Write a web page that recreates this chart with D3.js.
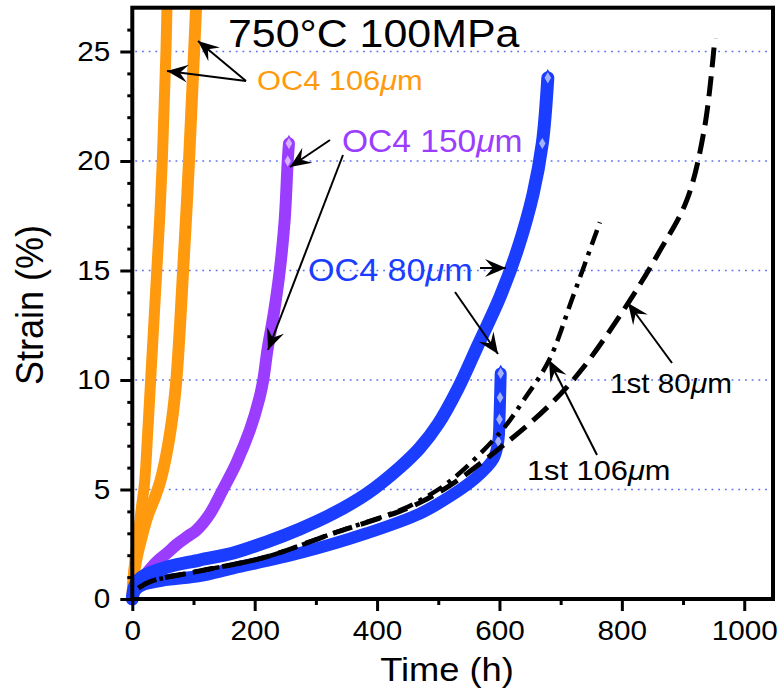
<!DOCTYPE html>
<html>
<head>
<meta charset="utf-8">
<script src="https://cdn.jsdelivr.net/npm/d3@7"></script>
<style>
  body { margin: 0; background: #fff; }
  text { font-family: "Liberation Sans", Arial, Helvetica, sans-serif; }
</style>
</head>
<body>
<div id="chart"></div>
<script>
// ticks
var xTicks = [0, 200, 400, 600, 800, 1000];
var xMinor = [100, 300, 500, 700, 900];
var yTicks = [0, 5, 10, 15, 20, 25];
var yMinor = d3.range(1, 27).filter(d => d % 5 != 0);

// series: [time (h), strain (%)]
var oc4_106a = [[0,0],[2,1],[5,2],[10,3],[15,4.2],[20,5.3],[25,7.5],[30,10],[35,12.5],[40,15],[45,17.5],[49,20],[52,22.5],[55,25],[57,27.5]];
var oc4_106b = [[0,0],[3,1.2],[8,2],[15,2.8],[25,3.8],[35,4.5],[45,5.3],[55,6.5],[65,8.2],[72,10],[78,12.5],[84,15.5],[90,18.5],[96,22],[101,25],[105,27.5]];
var oc4_150 = [[0,0],[5,0.6],[15,0.9],[21,1.1],[40,1.7],[57,2.1],[73,2.5],[90,2.85],[105,3.15],[127,3.9],[148,5],[170,6.2],[192,7.7],[208,9.2],[214,10],[221,11.4],[231,13],[241,15],[249,17.3],[254,20],[256,20.8]];
var oc4_80a = [[0,0],[4,0.6],[15,1.0],[57,1.46],[110,1.78],[165,2.1],[219,2.6],[274,3.2],[328,3.9],[383,4.8],[437,6.0],[470,6.9],[500,8.0],[532,9.6],[565,11.6],[601,13.8],[630,16.0],[655,18.5],[670,20.8],[679,23.8]];
var oc4_80b = [[0,0],[5,0.4],[18,0.65],[57,0.87],[110,1.05],[165,1.4],[274,2.1],[383,3.0],[470,3.9],[520,4.7],[560,5.5],[590,6.4],[598,7.2],[600,8.2],[601,9.2],[602,10.3]];
var first80 = [[10,0.5],[30,0.8],[110,1.28],[219,1.92],[328,3.0],[437,4.0],[470,4.4],[520,5.2],[601,6.9],[680,8.8],[735,10.5],[810,13.5],[860,15.8],[906,18.2],[935,21.5],[952,25.6]];
var first106 = [[10,0.5],[30,0.8],[110,1.28],[219,1.92],[328,3.0],[437,4.05],[470,4.5],[520,5.4],[601,7.6],[640,9.1],[681,10.9],[720,13.8],[764,17.2]];

var orange = "#ff9a0e", purple = "#9a3dff", blue = "#1a3dff";
var sx = 1.1;

var svg = d3.select("#chart").append("svg")
    .attr("width", 782).attr("height", 696);

var x = d3.scaleLinear().domain([0, 1047]).range([132.3, 773]);
var y = d3.scaleLinear().domain([0, 27]).range([599, 7.7]);

svg.append("defs").append("clipPath").attr("id", "plot")
    .append("rect").attr("x", 110).attr("y", y(27)).attr("width", 663).attr("height", 620);

svg.select("defs").append("marker")
    .attr("id", "arrow")
    .attr("markerUnits", "userSpaceOnUse")
    .attr("viewBox", "-22 -11 24 22")
    .attr("markerWidth", 24).attr("markerHeight", 22)
    .attr("refX", 0).attr("refY", 0)
    .attr("orient", "auto")
    .append("path")
    .attr("d", "M0,0 L-21,-9 L-13,0 L-21,9 Z")
    .attr("fill", "#000");

// dotted grid
svg.append("g").selectAll("line")
    .data(yTicks.filter(d => d > 0))
    .join("line")
    .attr("x1", x(0) + 3).attr("x2", x(1047) - 2)
    .attr("y1", d => y(d)).attr("y2", d => y(d))
    .attr("stroke", "#5d6ff0")
    .attr("stroke-width", 1.6)
    .attr("stroke-dasharray", "1.8,4.9");

var line = d3.line()
    .x(d => x(d[0])).y(d => y(d[1]))
    .curve(d3.curveCatmullRom.alpha(0.5));

var curves = svg.append("g").attr("clip-path", "url(#plot)");

function band(data, color, w) {
    curves.append("path")
        .datum(data)
        .attr("d", line)
        .attr("fill", "none")
        .attr("stroke", color)
        .attr("stroke-width", w)
        .attr("stroke-linecap", "round")
        .attr("stroke-linejoin", "round");
}

band(oc4_106a, orange, 11);
band(oc4_106b, orange, 12);
band(oc4_150, purple, 12);
band(oc4_80a, blue, 13);
band(oc4_80b, blue, 12);

// open diamonds where the marker bands end
var diamond = d3.symbol().type(d3.symbolDiamond).size(60);
function ends(data, n, color) {
    curves.append("g").selectAll("path")
        .data(data.slice(-n))
        .join("path")
        .attr("d", diamond)
        .attr("transform", d => "translate(" + x(d[0]) + "," + y(d[1]) + ")")
        .attr("fill", "#fff")
        .attr("fill-opacity", 0.6)
        .attr("stroke", color)
        .attr("stroke-width", 1.5);
}
ends(oc4_150, 2, purple);
ends(oc4_80a, 2, blue);
ends(oc4_80b, 4, blue);

curves.append("path").datum(first80).attr("d", line)
    .attr("fill", "none").attr("stroke", "#000").attr("stroke-width", 5)
    .attr("stroke-dasharray", "20,9");
curves.append("path").datum(first106).attr("d", line)
    .attr("fill", "none").attr("stroke", "#000").attr("stroke-width", 4.5)
    .attr("stroke-dasharray", "16,7,4,7");

// frame
svg.append("rect")
    .attr("x", x(0)).attr("y", y(27))
    .attr("width", x(1047) - x(0)).attr("height", y(0) - y(27))
    .attr("fill", "none").attr("stroke", "#000").attr("stroke-width", 4);

// axes
var xAxis = svg.append("g")
    .attr("transform", "translate(0," + y(0) + ")")
    .call(d3.axisBottom(x).tickValues(xTicks).tickSize(12).tickPadding(10).tickFormat(d3.format("d")));
svg.append("g")
    .attr("transform", "translate(0," + y(0) + ")")
    .call(d3.axisBottom(x).tickValues(xMinor).tickSize(6).tickFormat(""));
var yAxis = svg.append("g")
    .attr("transform", "translate(" + x(0) + ",0)")
    .call(d3.axisLeft(y).tickValues(yTicks).tickSize(12).tickPadding(8));
svg.append("g")
    .attr("transform", "translate(" + x(0) + ",0)")
    .call(d3.axisLeft(y).tickValues(yMinor).tickSize(5).tickFormat(""));

svg.selectAll(".domain").remove();
svg.selectAll(".tick line").attr("stroke", "#000").attr("stroke-width", 3);
svg.selectAll(".tick text")
    .attr("fill", "#000")
    .style("font-size", "27px")
    .attr("transform", "scale(" + sx + ",1)");
xAxis.selectAll(".tick text").attr("dy", "0.72em");

function label(px, py, parts, size, color, anchor) {
    var t = svg.append("text")
        .attr("transform", "translate(" + px + "," + py + ") scale(" + sx + ",1)")
        .attr("text-anchor", anchor || "start")
        .attr("fill", color)
        .style("font-size", size + "px");
    parts.forEach(function (p) {
        t.append("tspan").text(p[0]).style("font-style", p[1] ? "italic" : "normal");
    });
    return t;
}

// axis titles
label(447, 681, [["Time (h)"]], 33, "#000", "middle");
svg.append("text")
    .attr("transform", "translate(43,305) scale(" + sx + ",1) rotate(-90)")
    .attr("text-anchor", "middle")
    .style("font-size", "36px")
    .text("Strain (%)");

label(228, 47, [["750°C 100MPa"]], 39, "#000");
label(257, 90, [["OC4 106"], ["μ", true], ["m"]], 28, orange);
label(342, 152, [["OC4 150"], ["μ", true], ["m"]], 30.5, purple);
label(308, 281, [["OC4 80"], ["μ", true], ["m"]], 31, blue);
label(610, 393, [["1st 80"], ["μ", true], ["m"]], 27, "#000");
label(527, 480, [["1st 106"], ["μ", true], ["m"]], 28, "#000");

// annotation arrows [x1, y1, x2, y2]
var arrows = [
    [246, 81, 167, 71],
    [246, 81, 198, 41],
    [330, 140, 290, 167],
    [343, 155, 268, 350],
    [480, 268, 506, 268],
    [455, 292, 498, 354],
    [597, 455, 549, 360],
    [672, 363, 628, 303]
];
svg.append("g").selectAll("line")
    .data(arrows)
    .join("line")
    .attr("x1", d => d[0]).attr("y1", d => d[1])
    .attr("x2", d => d[2]).attr("y2", d => d[3])
    .attr("stroke", "#000").attr("stroke-width", 2)
    .attr("marker-end", "url(#arrow)");
</script>
</body>
</html>
